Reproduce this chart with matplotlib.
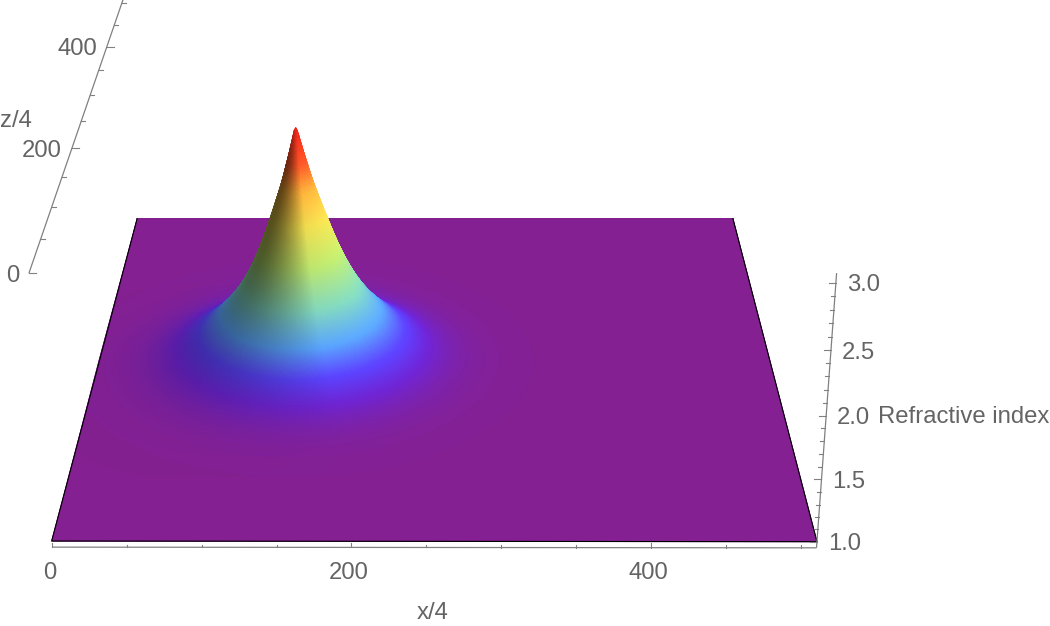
#!/usr/bin/env python
import numpy as np
import matplotlib
matplotlib.use('Agg')
import matplotlib.pyplot as plt
from matplotlib.colors import LinearSegmentedColormap

plt.rcParams['font.family'] = ['Liberation Sans', 'DejaVu Sans']

# radial profile of the index bump
radius = [0, 6, 12, 20, 30, 44, 60, 75, 90, 105, 120, 140, 170, 210, 260, 700]
index_vals = [3.01, 2.75, 2.52, 2.24, 1.93, 1.63, 1.42, 1.27, 1.15, 1.08, 1.04, 1.018, 1.008, 1.003, 1.0, 1.0]
peak_x = 155
peak_z = 256

x_major = [0, 200, 400]
x_minor = [50, 100, 150, 250, 300, 350, 450, 500]
z_major = [0, 200, 400]
z_minor = [50, 100, 150, 250, 300, 350, 450, 500]
n_major = [1.0, 1.5, 2.0, 2.5, 3.0]
n_minor = [1.1, 1.2, 1.3, 1.4, 1.6, 1.7, 1.8, 1.9, 2.1, 2.2, 2.3, 2.4, 2.6, 2.7, 2.8, 2.9]

# colours seen along the lit side of the surface
color_index = [1.0, 1.12, 1.25, 1.42, 1.65, 1.95, 2.25, 2.5, 2.7, 2.95]
color_rgb = ['#842091', '#7024d2', '#5c44ff', '#5aa5ff', '#82d7be', '#bee66e',
             '#f0dc50', '#ffb43c', '#ff5a28', '#f0281e']

# box limits
X_MAX = 510
Z_MAX = 510
N_BOTTOM = 0.95
N_TOP = 3.07

# camera fit: box point -> pixel in the 1050x626 frame
calib_box = [(0, 0, 1), (510, 0, 1), (510, 510, 1), (0, 510, 1),
             (0, 0, N_TOP), (510, 0, N_TOP), (510, 0, 3), (510, 0, 2),
             (0, 200, N_TOP), (0, 400, N_TOP)]
calib_px = [(52, 541.5), (817, 541.5), (733, 218.5), (137, 218.5),
            (29, 272.5), (837, 274), (836, 281.7), (825.5, 416),
            (71.5, 148), (107, 47.5)]


def fit_camera():
    rows = []
    rhs = []
    for (x, z, n), (u, v) in zip(calib_box, calib_px):
        rows.append([x, z, n, 1, 0, 0, 0, 0, -u * x, -u * z, -u * n])
        rhs.append(u)
        rows.append([0, 0, 0, 0, x, z, n, 1, -v * x, -v * z, -v * n])
        rhs.append(v)
    p = np.linalg.lstsq(np.array(rows, float), np.array(rhs, float), rcond=None)[0]
    return np.append(p, 1.0).reshape(3, 4)


CAM = fit_camera()


def project(x, z, n):
    x, z, n = np.asarray(x, float), np.asarray(z, float), np.asarray(n, float)
    w = CAM[2, 0] * x + CAM[2, 1] * z + CAM[2, 2] * n + CAM[2, 3]
    u = CAM[0, 0] * x + CAM[0, 1] * z + CAM[0, 2] * n + CAM[0, 3]
    v = CAM[1, 0] * x + CAM[1, 1] * z + CAM[1, 2] * n + CAM[1, 3]
    return u / w, v / w


def build_surface():
    fine_r = np.arange(-60, 760, 0.25)
    fine_n = np.interp(np.abs(fine_r), radius, index_vals)
    # the tip stays sharp, the flanks get a smoothed copy so the straight
    # pieces between read values do not show up as rings or kinks
    sharp = np.convolve(fine_n, np.ones(9) / 9, mode='same')
    soft = fine_n
    for width in (81, 81, 41):
        soft = np.convolve(soft, np.ones(width) / width, mode='same')
    mix = np.clip((np.abs(fine_r) - 8) / 14, 0, 1)
    height = sharp * (1 - mix) + soft * mix
    xs = np.linspace(0, X_MAX, 511)
    # far row first, so nearer quads paint over farther ones
    zs = np.linspace(Z_MAX, 0, 511)
    xx, zz = np.meshgrid(xs, zs)
    rr = np.hypot(xx - peak_x, zz - peak_z)
    return xx, zz, np.interp(rr, fine_r, height), np.interp(rr, fine_r, soft)


def surface_colors(xx, zz, nn, soft):
    ci = np.array(color_index)
    stops = (ci - ci[0]) / (ci[-1] - ci[0])
    cmap = LinearSegmentedColormap.from_list('rainbowish', list(zip(stops, color_rgb)))
    rgb = cmap(np.clip((nn - ci[0]) / (ci[-1] - ci[0]), 0, 1))[..., :3]
    dn_dz, dn_dx = np.gradient(soft * 60, zz[:, 0], xx[0, :])
    norm = np.sqrt(dn_dx ** 2 + dn_dz ** 2 + 1)
    # dark towards the left and slightly front, lit everywhere else
    facing = (-dn_dx * 0.95 - dn_dz * 0.3) / norm
    shade = 1 + 0.72 * np.minimum(facing, 0) + 0.08 * np.maximum(facing, 0)
    return np.clip(rgb * shade[..., None], 0, 1)


def draw_axis(ax, start, end):
    xs, ys = project(*zip(start, end))
    ax.plot(xs, ys, color='#808080', lw=0.9, solid_capstyle='butt', zorder=5)


def draw_tick(ax, px, py, dx, dy):
    ax.plot([px, px + dx], [py, py + dy], color='#808080', lw=0.8, zorder=5)


def label(ax, px, py, text, ha='center'):
    ax.text(px, py, text, color='#646464', fontsize=17.2, ha=ha, va='center')


def main():
    fig = plt.figure(figsize=(10.5, 6.26), dpi=100)
    ax = fig.add_axes([0, 0, 1, 1])
    ax.set_xlim(0, 1050)
    ax.set_ylim(626, 0)
    ax.axis('off')

    # back edge sits behind the peak
    bx, by = project([0, X_MAX], [Z_MAX, Z_MAX], [1, 1])
    ax.plot(bx, by, color='black', lw=0.8, zorder=1)

    xx, zz, nn, soft = build_surface()
    px, py = project(xx, zz, nn)
    ax.pcolormesh(px, py, surface_colors(xx, zz, nn, soft), shading='gouraud', zorder=2)

    # remaining floor edges
    ex, ey = project([0, 0, X_MAX, X_MAX], [Z_MAX, 0, 0, Z_MAX], [1, 1, 1, 1])
    ax.plot(ex, ey, color='black', lw=0.8, zorder=3)

    # x axis along the front of the box
    draw_axis(ax, (0, 0, N_BOTTOM), (X_MAX, 0, N_BOTTOM))
    for v in x_major:
        tx, ty = project(v, 0, N_BOTTOM)
        draw_tick(ax, tx, ty, 0, -4.5)
        label(ax, tx - 2.5, 573, str(v))
    for v in x_minor:
        tx, ty = project(v, 0, N_BOTTOM)
        draw_tick(ax, tx, ty, 0, -2.5)
    label(ax, 433, 613, 'x/4')

    # z axis runs along the top left of the box and leaves the frame
    draw_axis(ax, (0, 0, N_TOP), (0, Z_MAX, N_TOP))
    for v in z_major:
        tx, ty = project(0, v, N_TOP)
        draw_tick(ax, tx, ty, 7, 0)
        label(ax, tx - 10, ty + 2.5, str(v), ha='right')
    for v in z_minor:
        tx, ty = project(0, v, N_TOP)
        draw_tick(ax, tx, ty, 4, 0)
    label(ax, 16, 121, 'z/4')

    # refractive index axis on the right corner
    draw_axis(ax, (X_MAX, 0, N_BOTTOM), (X_MAX, 0, N_TOP))
    for v in n_major:
        tx, ty = project(X_MAX, 0, v)
        draw_tick(ax, tx, ty, -7, 0)
        label(ax, tx + 11, ty + 2.5, '%.1f' % v, ha='left')
    for v in n_minor:
        tx, ty = project(X_MAX, 0, v)
        draw_tick(ax, tx, ty, -4, 0)
    label(ax, 878, 417, 'Refractive index', ha='left')

    fig.savefig('out.png', dpi=100)


if __name__ == '__main__':
    main()
